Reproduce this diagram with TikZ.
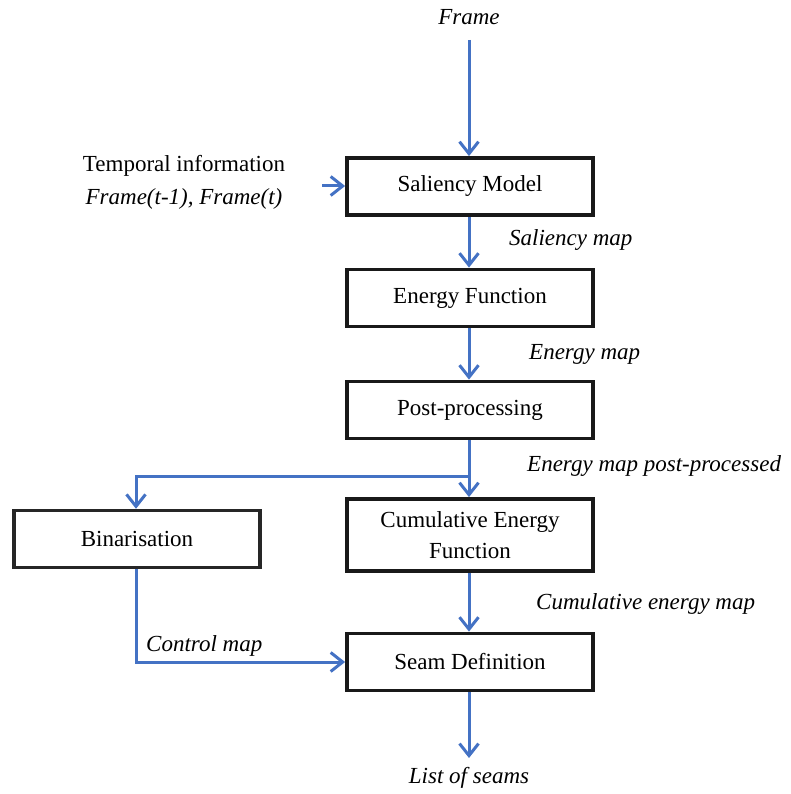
\documentclass[tikz,border=0pt]{standalone}
\usepackage{fontspec}
\setmainfont{Liberation Serif}
\usetikzlibrary{arrows.meta}
\definecolor{flowblue}{RGB}{68,114,196}
\begin{document}
\begin{tikzpicture}[x=1pt,y=-1pt,
  box/.style={draw=black!90, line width=3.8pt, minimum width=246pt, minimum height=57pt, inner sep=0pt, align=center, font=\fontsize{23}{30}\selectfont},
  lbl/.style={font=\fontsize{23}{30}\selectfont\itshape, inner sep=0pt},
  txt/.style={font=\fontsize{23}{30}\selectfont, inner sep=0pt, align=center},
  flow/.style={draw=flowblue, line width=3pt, -{Straight Barb[length=12pt,width=19pt,line width=3pt]}},
  seg/.style={draw=flowblue, line width=3pt}]
\useasboundingbox (0,0) rectangle (790,794);
\node[box] (sal) at (470,186.5) {Saliency Model};
\node[box] (ene) at (470,298) {Energy Function};
\node[box] (post) at (470,410) {Post-processing};
\node[box, minimum height=72pt] (cum) at (470,535) {Cumulative Energy\\[1pt]Function};
\node[box] (seam) at (470,662) {Seam Definition};
\node[box, minimum width=246pt, minimum height=57pt, draw=black!85, line width=3.4pt] (bin) at (137,539) {Binarisation};

\node[lbl] (frame) at (469,17) {Frame};
\node[txt] (temp) at (184,166) {Temporal information};
\node[lbl] (tempf) at (184,199) {Frame(t-1), Frame(t)};
\node[lbl, anchor=west] (lsal) at (509,240) {Saliency map};
\node[lbl, anchor=west] (lene) at (529,354) {Energy map};
\node[lbl, anchor=west] (lpost) at (527,466) {Energy map post-processed};
\node[lbl, anchor=west] (lcum) at (536,604) {Cumulative energy map};
\node[lbl, anchor=west] (lctl) at (146,646) {Control map};
\node[lbl] (list) at (469,778) {List of seams};

\coordinate (ftop) at (469,40);
\coordinate (tl) at (322,186);
\coordinate (split) at (469,476);
\coordinate (sl) at (136,476);
\coordinate (cl) at (136,662);
\coordinate (lend) at (469,758);

\draw[flow] (ftop) -- (sal.north -| ftop);
\draw[flow] (tl) -- (tl -| sal.west);
\draw[flow] (sal.south -| ftop) -- (ene.north -| ftop);
\draw[flow] (ene.south -| ftop) -- (post.north -| ftop);
\draw[seg] (post.south -| ftop) -- (split);
\draw[flow] (split) -- (cum.north -| ftop);
\draw[flow] ([xshift=1.5pt]split) -- (sl) -- (bin.north -| sl);
\draw[flow] (bin.south -| cl) -- (cl) -- (seam.west |- cl);
\draw[flow] (cum.south -| ftop) -- (seam.north -| ftop);
\draw[flow] (seam.south -| ftop) -- (lend);
\end{tikzpicture}
\end{document}
